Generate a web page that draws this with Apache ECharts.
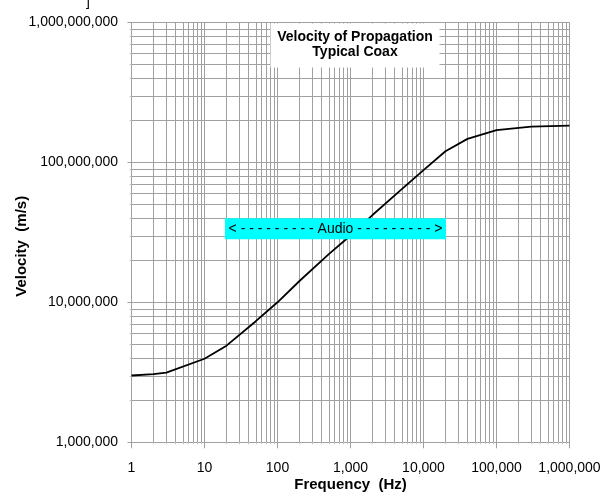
<!DOCTYPE html>
<html><head><meta charset="utf-8">
<script src="https://cdn.jsdelivr.net/npm/echarts@6/dist/echarts.min.js"></script>
<style>html,body{margin:0;padding:0;background:#fff}#c{width:603px;height:496px}</style>
</head><body><div id="c"></div>
<script>
const frequencyHz = [1, 2, 3, 10, 20, 50, 100, 200, 500, 1000, 2000, 5000, 10000, 20000, 40000, 100000, 300000, 1000000];
const velocityMs = [3.0e6, 3.07e6, 3.15e6, 3.95e6, 4.9e6, 7.3e6, 1.0e7, 1.42e7, 2.2e7, 3.0e7, 4.2e7, 6.4e7, 8.8e7, 1.2e8, 1.47e8, 1.70e8, 1.80e8, 1.83e8];
const xAxisRange = [1, 1000000];
const yAxisRange = [1000000, 1000000000];
const xDecades = [1, 10, 100, 1000, 10000, 100000];
const yDecades = [1000000, 10000000, 100000000];
const minorMultipliers = [2, 3, 4, 5, 6, 7, 8, 9];
const titleLines = ['Velocity of Propagation', 'Typical Coax'];
const audioLabel = '< - - - - - - - - - Audio - - - - - - - - - >';
const xAxisName = 'Frequency  (Hz)';
const yAxisName = 'Velocity  (m/s)';
const cornerMark = ']';

const fmt = v => String(Math.round(v)).replace(/\B(?=(\d{3})+(?!\d))/g, ',');
const gridColor = '#a0a0a0';
const FONT = 'Arial, "Liberation Sans", sans-serif';

// minor log grid positions: multiplier x decade
const minorX = [];
xDecades.forEach(d => minorMultipliers.forEach(m => minorX.push(['x', m * d])));
const minorY = [];
yDecades.forEach(d => minorMultipliers.forEach(m => minorY.push(['y', m * d])));

const chart = echarts.init(document.getElementById('c'), null, {renderer: 'canvas'});
const axisCommon = {
  type: 'log', logBase: 10,
  axisLine: {show: true, lineStyle: {color: gridColor, width: 1}},
  splitLine: {show: true, lineStyle: {color: gridColor, width: 1}},
  minorTick: {show: false},
  minorSplitLine: {show: false},
  axisLabel: {color: '#000', fontFamily: FONT, fontSize: 14, formatter: fmt},
  nameLocation: 'middle',
  nameMoveOverlap: false,
  nameTextStyle: {color: '#000', fontFamily: FONT, fontSize: 15, fontWeight: 'bold'}
};
const option = {
  animation: false,
  backgroundColor: '#fff',
  grid: {left: 131.5, right: 33.5, top: 22.3, bottom: 53.7, containLabel: false, outerBoundsMode: 'none'},
  xAxis: Object.assign({}, axisCommon, {
    min: xAxisRange[0], max: xAxisRange[1],
    name: xAxisName, nameGap: 35,
    axisTick: {show: true, length: 6, lineStyle: {color: gridColor}},
    axisLabel: Object.assign({}, axisCommon.axisLabel, {margin: 19})
  }),
  yAxis: Object.assign({}, axisCommon, {
    min: yAxisRange[0], max: yAxisRange[1],
    name: yAxisName, nameGap: 102,
    nameTextStyle: Object.assign({}, axisCommon.nameTextStyle, {padding: [0, 28, 0, 0]}),
    axisTick: {show: true, length: 4, lineStyle: {color: gridColor}},
    axisLabel: Object.assign({}, axisCommon.axisLabel, {margin: 13.5})
  }),
  series: [{
    type: 'custom',
    silent: true,
    clip: false,
    data: minorX.concat(minorY).map(d => [d[0] === 'x' ? d[1] : xAxisRange[0], d[0] === 'y' ? d[1] : yAxisRange[0], d[0] === 'x' ? 0 : 1]),
    encode: {x: 0, y: 1},
    renderItem: function (params, api) {
      const cs = params.coordSys;
      const isY = api.value(2) === 1;
      const p = api.coord([api.value(0), api.value(1)]);
      if (!isY) {
        const x = Math.round(p[0]) + 0.5;
        return {type: 'group', children: [
          {type: 'line', shape: {x1: x, y1: cs.y, x2: x, y2: cs.y + cs.height}, style: {stroke: gridColor, lineWidth: 1}},
          {type: 'line', shape: {x1: x, y1: cs.y + cs.height, x2: x, y2: cs.y + cs.height + 2}, style: {stroke: '#c8c8c8', lineWidth: 1}}
        ]};
      }
      const y = Math.round(p[1]) + 0.5;
      return {type: 'group', children: [
        {type: 'line', shape: {x1: cs.x, y1: y, x2: cs.x + cs.width, y2: y}, style: {stroke: gridColor, lineWidth: 1}},
        {type: 'line', shape: {x1: cs.x - 2, y1: y, x2: cs.x, y2: y}, style: {stroke: '#c8c8c8', lineWidth: 1}}
      ]};
    },
    z: 1
  }, {
    type: 'line',
    data: frequencyHz.map((f, i) => [f, velocityMs[i]]),
    showSymbol: false, symbol: 'none',
    lineStyle: {color: '#000', width: 1.8},
    z: 3
  }],
  graphic: [
    {type: 'rect', shape: {x: 270.5, y: 23.5, width: 169, height: 44}, style: {fill: '#fff'}, z: 10},
    {type: 'text', x: 355, y: 30, z: 11,
     style: {text: titleLines.join('\n'), fill: '#000', font: 'bold 14px ' + FONT, textAlign: 'center', lineHeight: 15}},
    {type: 'rect', shape: {x: 225, y: 218.3, width: 221, height: 21}, style: {fill: '#00ffff'}, z: 10},
    {type: 'text', x: 335.5, y: 229, z: 11,
     style: {text: audioLabel, fill: '#000', font: '14px ' + FONT, textAlign: 'center', textVerticalAlign: 'middle'}},
    {type: 'text', x: 86, y: -5, z: 11,
     style: {text: cornerMark, fill: '#000', font: '14px ' + FONT}}
  ]
};
chart.setOption(option);
</script></body></html>
